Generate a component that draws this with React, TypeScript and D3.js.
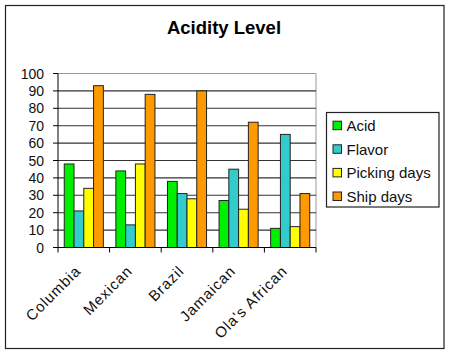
import React from "react";
import { scaleBand, scaleLinear, range } from "d3";

// Acidity level grouped bars

const categories = ["Columbia", "Mexican", "Brazil", "Jamaican", "Ola's African"];
const seriesNames = ["Acid", "Flavor", "Picking days", "Ship days"];
const acid = [48, 44, 38, 27, 11];
const flavor = [21, 13, 31, 45, 65];
const picking = [34, 48, 28, 22, 12];
const ship = [93, 88, 90, 72, 31];
const yTicks = [0, 10, 20, 30, 40, 50, 60, 70, 80, 90, 100];

const colors = ["#00ee00", "#33cccc", "#ffff00", "#ff9900"];
const seriesValues = [acid, flavor, picking, ship];

const plot = { left: 58, right: 316, top: 73.5, bottom: 247.5 };

export default function App() {
  const x0 = scaleBand<string>().domain(categories).range([plot.left, plot.right]).padding(0);
  const x1 = scaleBand<string>()
    .domain(seriesNames)
    .range([0, x0.bandwidth()])
    .paddingInner(0)
    .paddingOuter(0.64);
  const y = scaleLinear().domain([0, 100]).range([plot.bottom, plot.top]);

  const boundaries = range(categories.length + 1).map(
    (i) => plot.left + i * x0.step()
  );

  return (
    <svg
      width={450}
      height={354}
      style={{ position: "absolute", left: 0, top: 0, fontFamily: "Arial, Liberation Sans, sans-serif" }}
    >
      <rect x={0} y={0} width={450} height={354} fill="#fff" />
      <rect x={5.5} y={5.5} width={438.5} height={343} fill="#fff" stroke="#222" strokeWidth={1.2} />

      <text x={224} y={34} textAnchor="middle" fontSize={18.5} fontWeight="bold" fill="#000">
        Acidity Level
      </text>

      {/* plot frame */}
      <line x1={plot.left} x2={plot.right} y1={plot.top} y2={plot.top} stroke="#999" />
      <line x1={plot.right} x2={plot.right} y1={plot.top} y2={plot.bottom} stroke="#999" />

      {/* gridlines */}
      {yTicks.slice(1, -1).map((t) => (
        <line key={t} x1={plot.left} x2={plot.right} y1={y(t)} y2={y(t)} stroke="#333" strokeWidth={1.1} />
      ))}

      {/* bars */}
      {categories.map((c, ci) => (
        <g key={c} transform={`translate(${x0(c)},0)`}>
          {seriesNames.map((s, si) => (
            <rect
              key={s}
              x={x1(s)}
              y={y(seriesValues[si][ci])}
              width={x1.bandwidth()}
              height={plot.bottom - y(seriesValues[si][ci])}
              fill={colors[si]}
              stroke="#222"
              strokeWidth={1}
            />
          ))}
        </g>
      ))}

      {/* y axis */}
      <line x1={plot.left} x2={plot.left} y1={plot.top} y2={plot.bottom} stroke="#000" />
      {yTicks.map((t) => (
        <g key={t}>
          <line x1={plot.left - 5} x2={plot.left} y1={y(t)} y2={y(t)} stroke="#000" />
          <text x={44} y={y(t) + 5} textAnchor="end" fontSize={14} fill="#111">
            {t}
          </text>
        </g>
      ))}

      {/* x axis */}
      <line x1={plot.left} x2={plot.right} y1={plot.bottom} y2={plot.bottom} stroke="#000" />
      {boundaries.map((b, i) => (
        <line key={i} x1={b} x2={b} y1={plot.bottom} y2={plot.bottom + 5} stroke="#000" />
      ))}
      {categories.map((c) => {
        const cx = (x0(c) as number) + x0.bandwidth() / 2 - 2;
        const cy = 272;
        return (
          <text
            key={c}
            x={cx}
            y={cy}
            textAnchor="end"
            fontSize={15}
            letterSpacing={0.9}
            fill="#111"
            transform={`rotate(-45,${cx},${cy})`}
          >
            {c}
          </text>
        );
      })}

      {/* legend */}
      <rect x={326.5} y={112.5} width={112.5} height={94.5} fill="#fff" stroke="#222" strokeWidth={1.2} />
      {seriesNames.map((s, i) => {
        const cy = 125.7 + i * 23.6;
        return (
          <g key={s}>
            <rect x={333} y={cy - 4.5} width={8.5} height={8.5} fill={colors[i]} stroke="#222" />
            <text x={346.5} y={cy + 5.5} fontSize={15} fill="#111">
              {s}
            </text>
          </g>
        );
      })}
    </svg>
  );
}
